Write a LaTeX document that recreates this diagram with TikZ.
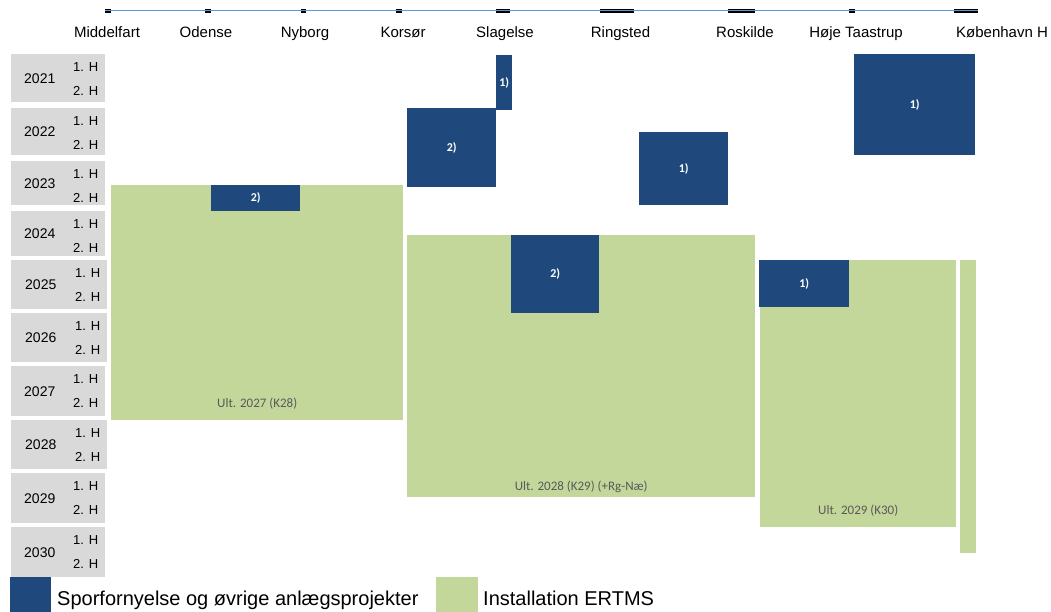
\documentclass[tikz,border=0pt]{standalone}
\usepackage{fontspec}
\setmainfont{Liberation Sans}
\newfontfamily\calibri{Carlito}
\usetikzlibrary{positioning}
\definecolor{navy}{RGB}{31,73,125}
\definecolor{ertmsgreen}{RGB}{196,215,155}
\definecolor{rowgray}{RGB}{217,217,217}
\definecolor{routeblue}{RGB}{91,155,213}
\definecolor{ultgray}{RGB}{89,89,89}

\begin{document}
\begin{tikzpicture}[x=1pt, y=-1pt, inner sep=0pt,
    station/.style={anchor=base, font=\fontsize{15}{18}\selectfont},
    tick/.style={rectangle, fill=black, minimum height=4pt},
    route/.style={draw=routeblue, line width=0.9pt},
    half/.style={font=\fontsize{13}{15}\selectfont},
    yearbox/.style={rectangle, fill=rowgray, anchor=north west,
        minimum width=94pt, text width=68pt, inner xsep=13pt, align=left,
        font=\fontsize{14}{16}\selectfont,
        label={[half, anchor=base east, xshift=-7pt, yshift=-17pt]north east:1. H},
        label={[half, anchor=base east, xshift=-7pt, yshift=-41pt]north east:2. H}},
    renewal/.style={rectangle, fill=navy, anchor=north west, text=white,
        font=\calibri\bfseries\fontsize{12}{14}\selectfont},
    ertms/.style={rectangle, fill=ertmsgreen, anchor=north west},
    ult/.style={text=ultgray, font=\calibri\fontsize{13}{15}\selectfont},
    legend/.style={anchor=base west, font=\fontsize{20}{24}\selectfont}
    ]

    \useasboundingbox (0,0) rectangle (1051,611);

    \node[tick, minimum width=5.5pt]  (mf) at (108.2,10.5) {};
    \node[tick, minimum width=6pt]    (od) at (208,10.5)   {};
    \node[tick, minimum width=5pt]    (ny) at (303,10.5)   {};
    \node[tick, minimum width=6.5pt]  (ko) at (398.8,10.5) {};
    \node[tick, minimum width=14.5pt] (sl) at (503.2,10.5) {};
    \node[tick, minimum width=34.5pt] (ri) at (617.2,10.5) {};
    \node[tick, minimum width=27pt]   (ro) at (741.5,10.5) {};
    \node[tick, minimum width=6pt]    (ht) at (851.5,10.5) {};
    \node[tick, minimum width=23.5pt] (kh) at (966.2,10.5) {};
    \draw[route] (mf.west) -- (kh.east);

    \node[station] (mfname) at (107,37)  {Middelfart};
    \node[station] (odname) at (206,37)  {Odense};
    \node[station] (nyname) at (305,37)  {Nyborg};
    \node[station] (koname) at (403,37)  {Korsør};
    \node[station] (slname) at (505,37)  {Slagelse};
    \node[station] (riname) at (620.5,37) {Ringsted};
    \node[station] (roname) at (745,37)  {Roskilde};
    \node[station] (htname) at (856,37)  {Høje Taastrup};
    \node[station] (khname) at (1002,37) {København H};

    \node[yearbox, minimum height=48pt]                     (y2021) at (11,54)  {2021};
    \node[yearbox, minimum height=47pt]                     (y2022) at (11,108) {2022};
    \node[yearbox, minimum height=44pt]                     (y2023) at (11,161) {2023};
    \node[yearbox, minimum height=45pt]                     (y2024) at (11,211) {2024};
    \node[yearbox, minimum height=49pt, minimum width=96pt] (y2025) at (11,260) {2025};
    \node[yearbox, minimum height=49pt, minimum width=96pt] (y2026) at (11,313) {2026};
    \node[yearbox, minimum height=50pt]                     (y2027) at (11,366) {2027};
    \node[yearbox, minimum height=49pt, minimum width=96pt] (y2028) at (11,420) {2028};
    \node[yearbox, minimum height=50pt]                     (y2029) at (11,473) {2029};
    \node[yearbox, minimum height=50pt]                     (y2030) at (11,527) {2030};

    \node[ertms, minimum width=292pt, minimum height=235pt] (g1) at (111,185) {};
    \node[ertms, minimum width=348pt, minimum height=262pt] (g2) at (407,235) {};
    \node[ertms, minimum width=196pt, minimum height=267pt] (g3) at (760,260) {};
    \node[ertms, minimum width=16pt,  minimum height=293pt] (g4) at (960,260) {};
    \node[ult] (u1) [above=11pt of g1.south] {Ult. 2027 (K28)};
    \node[ult] (u2) [above=4pt of g2.south]  {Ult. 2028 (K29) (+Rg-Næ)};
    \node[ult] (u3) [above=11pt of g3.south] {Ult. 2029 (K30)};

    \node[renewal, minimum width=16pt,  minimum height=55pt]  (r1) at (496,55)  {1)};
    \node[renewal, minimum width=89pt,  minimum height=79pt]  (r2) at (407,108) {2)};
    \node[renewal, minimum width=89pt,  minimum height=73pt]  (r3) at (639,132) {1)};
    \node[renewal, minimum width=121pt, minimum height=101pt] (r4) at (854,54)  {1)};
    \node[renewal, minimum width=89pt,  minimum height=26pt]  (r5) at (211,185) {2)};
    \node[renewal, minimum width=88pt,  minimum height=78pt]  (r6) at (511,235) {2)};
    \node[renewal, minimum width=90pt,  minimum height=47pt]  (r7) at (759,260) {1)};

    \node[renewal, minimum width=41pt, minimum height=36pt] (keyrenewal) at (10,577)  {};
    \node[legend] (keyrenewaltext) at (57,605) {Sporfornyelse og øvrige anlægsprojekter};
    \node[ertms, minimum width=42pt, minimum height=36pt]   (keyertms)   at (436,577) {};
    \node[legend] (keyertmstext) at (483,605) {Installation ERTMS};
  \end{tikzpicture}
\end{document}
